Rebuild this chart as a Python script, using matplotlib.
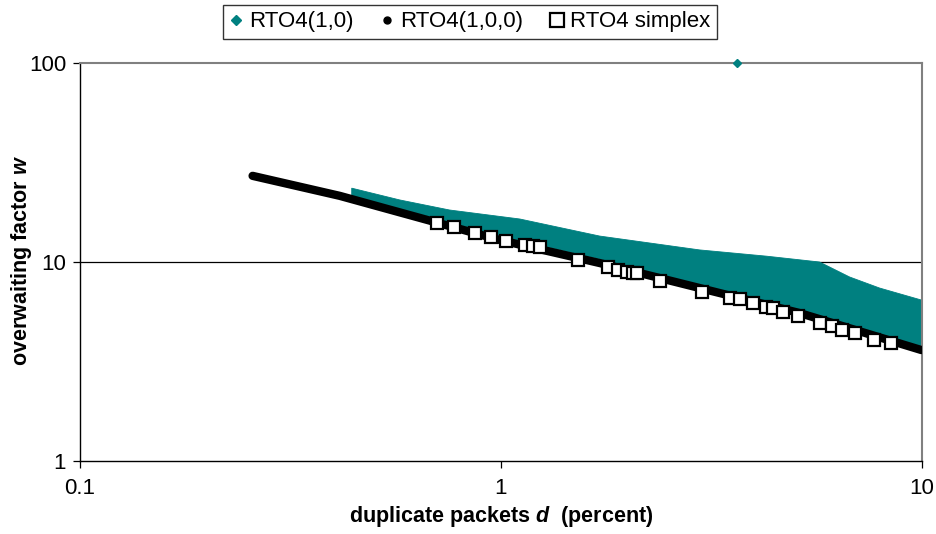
import numpy as np
import matplotlib.pyplot as plt
from matplotlib.lines import Line2D

plt.rcParams['font.family'] = ['Liberation Sans', 'DejaVu Sans']
plt.rcParams['mathtext.fontset'] = 'custom'
plt.rcParams['mathtext.bfit'] = 'Liberation Sans:bold:italic'

TEAL = '#008080'

# RTO4(1,0): envelope of the dense cloud (upper and lower edge) plus one outlier
rto10_upper_d = [0.442, 0.575, 0.755, 1.108, 1.716, 2.964, 4.27, 5.71, 6.73, 7.93, 9.97]
rto10_upper_w = [23.5, 20.5, 18.25, 16.45, 13.5, 11.5, 10.7, 10.0, 8.41, 7.40, 6.44]
rto10_lower_d = [0.442, 0.666, 0.993, 1.716, 2.964, 5.12, 9.97]
rto10_lower_w = [21.5, 17.0, 13.5, 10.35, 7.66, 5.74, 3.61]
rto10_outlier_d = [3.63]
rto10_outlier_w = [100]

# RTO4(1,0,0)
rto100_d = [0.257, 0.414, 0.666, 0.993, 1.716, 2.964, 5.12, 9.97]
rto100_w = [27.1, 21.5, 16.3, 12.9, 9.88, 7.40, 5.54, 3.61]

# RTO4 simplex
simplex_d = [0.704, 0.772, 0.866, 0.946, 1.026, 1.139, 1.190, 1.236, 1.521, 1.792,
             1.893, 1.989, 2.055, 2.10, 2.382, 2.997, 3.49, 3.69, 3.96, 4.27,
             4.42, 4.67, 5.09, 5.74, 6.10, 6.44, 6.95, 7.71, 8.42]
simplex_w = [15.7, 15.0, 13.98, 13.35, 12.75, 12.17, 12.03, 11.9, 10.23, 9.44,
             9.12, 8.91, 8.81, 8.81, 8.03, 7.07, 6.59, 6.52, 6.22, 5.94,
             5.87, 5.61, 5.35, 4.94, 4.77, 4.55, 4.40, 4.06, 3.92]

fig = plt.figure(figsize=(9.36, 5.34), dpi=100)
ax = fig.add_axes([0.0855, 0.1367, 0.8995, 0.7453])
ax.set_xscale('log')
ax.set_yscale('log')
ax.set_xlim(0.1, 10)
ax.set_ylim(1, 100)

ax.axhline(10, color='black', lw=0.9, zorder=1)

ax.fill(np.r_[rto10_upper_d, rto10_lower_d[::-1]],
        np.r_[rto10_upper_w, rto10_lower_w[::-1]],
        color=TEAL, lw=0.6, ec=TEAL, zorder=2)
ax.plot(rto10_outlier_d, rto10_outlier_w, 'D', color=TEAL, ms=4, zorder=5, clip_on=False)

ax.plot(rto100_d, rto100_w, color='black', lw=6, solid_capstyle='round',
        solid_joinstyle='round', zorder=3)

ax.plot(simplex_d, simplex_w, 's', ms=8, mfc='white', mec='black', mew=1.6,
        ls='none', zorder=4)

ax.set_xticks([0.1, 1, 10])
ax.set_xticklabels(['0.1', '1', '10'])
ax.set_yticks([1, 10, 100])
ax.set_yticklabels(['1', '10', '100'])
ax.minorticks_off()
ax.tick_params(axis='both', labelsize=16, length=5, width=0.9, color='black')
ax.tick_params(axis='x', pad=7)
ax.tick_params(axis='y', pad=5)

for side in ['left', 'bottom']:
    ax.spines[side].set_color('black')
    ax.spines[side].set_linewidth(1)
for side in ['top', 'right']:
    ax.spines[side].set_color('#808080')
    ax.spines[side].set_linewidth(1.5)

ax.set_xlabel(r'duplicate packets $\boldsymbol{d}$  (percent)', fontsize=15.5,
              fontweight='bold', labelpad=4)
ax.set_ylabel(r'overwaiting factor $\boldsymbol{w}$', fontsize=15.5,
              fontweight='bold', va='center')
ax.yaxis.set_label_coords(-0.069, 0.505)

handles = [
    Line2D([], [], marker='D', color=TEAL, ls='none', ms=5),
    Line2D([], [], marker='o', color='black', ls='none', ms=5),
    Line2D([], [], marker='s', mfc='white', mec='black', mew=1.6, ls='none', ms=10),
]
leg = fig.legend(handles, ['RTO4(1,0)', 'RTO4(1,0,0)', 'RTO4 simplex'],
                 loc='center', bbox_to_anchor=(0.502, 0.959), ncol=3,
                 fontsize=16, frameon=True, fancybox=False, handlelength=0.6,
                 handletextpad=0.3, columnspacing=1.2, borderpad=0.3)
leg.get_frame().set_edgecolor('black')
leg.get_frame().set_linewidth(1)

fig.savefig('out.png', dpi=100)
